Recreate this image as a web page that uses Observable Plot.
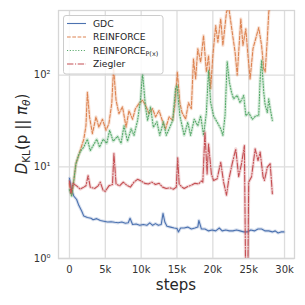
<!DOCTYPE html>
<html><head><meta charset="utf-8">
<script src="https://cdn.jsdelivr.net/npm/d3@7"></script>
<script src="https://cdn.jsdelivr.net/npm/@observablehq/plot@0.6"></script>
<style>body{margin:0;background:#fff} svg{font-family:"DejaVu Sans";}</style>
</head><body><div id="chart"></div>
<script>
// steps in thousands
const gdcSteps = [0,0.3,0.6,1.0,1.3,1.7,2.0,2.5,3.0,3.3,3.8,4.3,4.8,5.3,5.8,6.3,6.8,7.3,7.8,8.2,8.45,8.8,9.3,9.8,10.3,10.8,11.2,11.6,12.0,12.4,12.8,13.05,13.3,13.6,14.1,14.6,15.0,15.2,15.5,16.0,16.5,17.0,17.5,17.9,18.05,18.4,18.9,19.4,19.9,20.4,20.9,21.3,21.8,22.3,22.8,23.3,23.8,24.3,24.8,25.3,25.8,26.3,26.8,27.3,27.8,28.3,28.7,29.1,29.5,29.9];
const gdcValues = [7.5,5.6,4.8,4.4,3.8,3.3,2.9,2.8,2.75,2.65,2.72,2.6,2.55,2.5,2.52,2.48,2.45,2.5,2.42,2.45,2.75,2.35,2.38,2.3,2.35,2.3,2.45,2.3,2.4,2.3,2.35,3.1,2.5,2.25,2.2,2.15,2.12,1.95,2.15,2.15,2.2,2.1,2.15,2.2,2.6,2.1,2.1,2.0,2.05,2.0,2.15,2.0,2.05,2.0,2.0,2.05,2.0,1.95,1.95,2.05,2.0,2.1,2.1,2.0,2.0,1.95,2.0,1.9,1.95,1.95];

const reinforceSteps = [0,0.3,0.6,0.9,1.3,1.6,2.0,2.3,2.5,2.8,3.2,3.7,4.1,4.6,5.1,5.5,5.9,6.15,6.5,6.9,7.4,7.9,8.3,8.8,9.2,9.7,10.2,10.6,11.1,11.6,12.0,12.5,13.0,13.4,13.9,14.4,14.7,15.05,15.4,15.7,16.2,16.6,17.0,17.3,17.6,17.9,18.3,18.7,19.1,19.4,19.7,20.0,20.4,20.7,21.1,21.4,21.9,22.2,22.7,23.1,23.4,23.9,24.2,24.6,24.9,25.2,25.6,26.1,26.4,26.8,27.1,27.3,27.6,27.8,28.0];
const reinforceValues = [6.5,5.0,7.0,10.8,13.5,16,20,28,65,35,23,35,27,33,25,29.5,49,120,53,38,45,27,41,33,43,49,53,47,38,43,35,41,31,26,35,32,47,108,50,39,33,50,43,150,91,194,138,270,108,163,71,163,347,228,410,210,485,560,295,178,100,410,210,320,163,91,194,270,330,210,117,108,250,485,600];

const reinforcePxSteps = [0,0.3,0.6,0.9,1.3,1.6,2.0,2.5,2.9,3.3,3.8,4.2,4.7,5.2,5.6,6.1,6.7,7.2,7.6,8.1,8.6,9.0,9.5,9.9,10.2,10.6,10.9,11.3,11.7,12.2,12.6,13.1,13.5,14.0,14.4,14.8,15.0,15.4,16.0,16.5,16.9,17.4,17.9,18.3,18.7,19.1,19.4,19.7,20.1,20.6,21.1,21.4,21.7,22.0,22.3,22.6,22.9,23.4,23.8,24.3,24.6,25.0,25.5,26.0,26.4,26.6,26.8,27.1,27.3,27.6,27.8,28.0,28.3];
const reinforcePxValues = [5.6,4.8,7.0,10.8,13.5,15,16.4,20,15,17,20,16.4,20,18,25,19,21.5,18,28,19,26,22,32,53,105,45,32,45,27,31,22,31,22,27,32,71,77,36,22,30.6,22,33,28,36,22,39,112,50,36,30.6,26,22,36,140,84,65,55,60,50,60,36,39,33,36,36,91,145,65,47,39,55,43,32];

const zieglerSteps = [0,0.2,0.5,1.0,1.5,2.0,2.3,2.6,2.9,3.5,4.0,4.3,4.7,5.0,5.5,6.0,6.2,6.5,7.0,7.5,8.0,8.5,9.0,9.5,10.0,10.5,11.0,11.5,12.0,12.5,13.0,13.5,14.0,14.5,14.9,15.1,15.3,15.7,16.0,16.5,17.0,17.5,18.0,18.4,18.6,18.9,19.2,19.4,19.8,20.1,20.6,21.1,21.5,21.9,22.2,22.7,23.2,23.6,24.0,24.4,24.6,24.85,25.0,25.4,25.9,26.3,26.6,27.0,27.2,27.6,28.0,28.3];
const zieglerValues = [7.0,5.2,6.6,6.2,5.7,6.0,6.2,8.0,6.0,5.8,6.2,6.8,5.5,5.4,6.2,6.4,14,6.5,6.2,6.8,6.3,6.0,6.8,7.3,7.0,6.6,6.5,6.8,6.4,6.6,6.0,5.8,5.9,5.7,6.0,12.5,6.5,6.0,5.8,6.1,6.3,6.6,6.5,7.0,6.8,24,8.3,17.8,8.3,7.1,7.4,11.2,6.8,4.9,7.1,10.8,15.7,7.8,10.8,17,0.4,0.4,6.8,7.8,15.7,11.7,14.5,7.8,7.1,9.9,10.8,5.1];

const seriesNames = ["GDC","REINFORCE","REINFORCE_P(x)","Ziegler"];
const seriesSteps = [gdcSteps, reinforceSteps, reinforcePxSteps, zieglerSteps];
const seriesValues = [gdcValues, reinforceValues, reinforcePxValues, zieglerValues];
const seriesColors = ["#4c72b0","#dd8452","#55a868","#c44e52"];
const seriesDash = [null, "3.7,1.6", "1.1,1.7", "6.4,1.6,1.1,1.6"];

const xTicks = [0,5,10,15,20,25,30];
const xTickLabels = ["0","5k","10k","15k","20k","25k","30k"];
const yTicks = [1,10,100];
const yTickLabels = ["10\u2070","10\u00b9","10\u00b2"];

const tables = seriesNames.map((name,k)=>seriesSteps[k].map((s,i)=>({series:name, step:s, value:seriesValues[k][i]})));

const marks = [
  Plot.gridX(xTicks,{stroke:"#dddddd",strokeOpacity:1,strokeWidth:1.3}),
  Plot.gridY(yTicks,{stroke:"#dddddd",strokeOpacity:1,strokeWidth:1.3}),
  Plot.frame({stroke:"#d6d6d6",strokeWidth:1.3})
];
tables.forEach((t,k)=>{
  marks.push(Plot.line(t,{x:"step",y:"value",stroke:seriesColors[k],strokeWidth:3.2,strokeOpacity:0.22,clip:true}));
  marks.push(Plot.line(t,{x:"step",y:"value",stroke:seriesColors[k],strokeWidth:1.1,strokeDasharray:seriesDash[k]||undefined,clip:true}));
});
marks.push(Plot.axisX(xTicks,{tickSize:0,tickPadding:7,tickFormat:(d)=>xTickLabels[xTicks.indexOf(d)],label:null}));
marks.push(Plot.axisY(yTicks,{tickSize:0,tickPadding:8,tickFormat:(d)=>yTickLabels[yTicks.indexOf(d)],label:null}));

const chart = Plot.plot({
  width:305,height:305,marginLeft:58,marginRight:11,marginTop:10,marginBottom:47,
  style:{fontFamily:"DejaVu Sans",fontSize:"10px",color:"#333333",background:"#ffffff"},
  x:{domain:[-1.53,31.39]},
  y:{type:"log",domain:[1,506]},
  marks
});
document.getElementById("chart").appendChild(chart);

const svg = d3.select(chart);
// x label
svg.append("text").attr("x",176).attr("y",290).attr("text-anchor","middle")
  .attr("font-size",15).attr("fill","#262626").text("steps");
// y label
const yl = svg.append("text").attr("transform","translate(27,134) rotate(-90)")
  .attr("text-anchor","middle").attr("font-size",15).attr("fill","#262626");
yl.append("tspan").attr("font-style","italic").text("D");
yl.append("tspan").attr("font-size",10.5).attr("dy",3).text("KL");
yl.append("tspan").attr("dy",-3).text("(p || ");
yl.append("tspan").attr("font-style","italic").text("\u03c0");
yl.append("tspan").attr("font-style","italic").attr("font-size",10.5).attr("dy",3).text("\u03b8");
yl.append("tspan").attr("dy",-3).text(")");

// legend
const lg = svg.append("g").attr("text-anchor","start");
lg.append("rect").attr("x",63.5).attr("y",15.5).attr("width",99.5).attr("height",58.5).attr("rx",2.5)
  .attr("fill","#ffffff").attr("fill-opacity",0.85).attr("stroke","#cccccc").attr("stroke-width",1);
const rowY = [23.5,37,50.5,64];
seriesNames.forEach((name,k)=>{
  const ln = lg.append("line").attr("x1",67).attr("x2",86).attr("y1",rowY[k]).attr("y2",rowY[k])
    .attr("stroke",seriesColors[k]).attr("stroke-width",1.1);
  if (seriesDash[k]) ln.attr("stroke-dasharray",seriesDash[k]);
  const t = lg.append("text").attr("x",93).attr("y",rowY[k]+3.3).attr("text-anchor","start")
    .attr("font-size",9.2).attr("fill","#262626");
  if (name.includes("_")) {
    const [a,b] = name.split("_");
    t.append("tspan").text(a);
    t.append("tspan").attr("font-size",6.5).attr("dy",2).text(b);
  } else t.text(name);
});
</script>
</body></html>
